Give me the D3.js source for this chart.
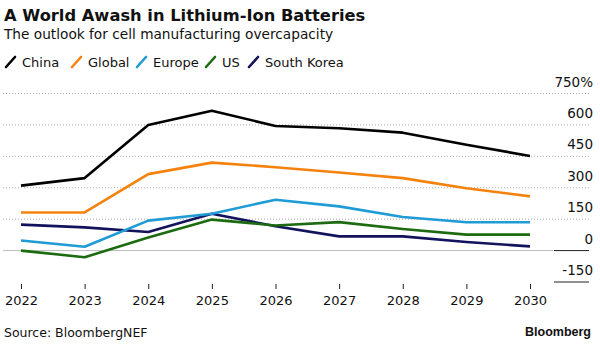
<!DOCTYPE html>
<html>
<head>
<meta charset="utf-8">
<script src="https://cdn.jsdelivr.net/npm/d3@7"></script>
<style>
  body { margin: 0; background: #fff; }
  text { font-family: "DejaVu Sans", sans-serif; fill: #111; }
</style>
</head>
<body>
<svg id="chart" width="600" height="344"></svg>
<script>
// data
const years = [2022, 2023, 2024, 2025, 2026, 2027, 2028, 2029, 2030];
const china = [310, 346, 600, 668, 595, 584, 563, 505, 452];
const global = [182, 182, 365, 420, 398, 373, 346, 298, 259];
const europe = [48, 18, 143, 176, 243, 211, 160, 135, 135];
const us = [0, -32, 63, 148, 120, 136, 103, 76, 76];
const southKorea = [124, 111, 89, 176, 116, 68, 68, 41, 20];
const yTicks = [-150, 0, 150, 300, 450, 600, 750];

const series = [
  { name: "China", values: china, color: "#000000" },
  { name: "Global", values: global, color: "#f5820d" },
  { name: "Europe", values: europe, color: "#1f9bd6" },
  { name: "US", values: us, color: "#1c6b10" },
  { name: "South Korea", values: southKorea, color: "#13125c" }
];

const svg = d3.select("#chart");

const x = d3.scalePoint()
  .domain(years)
  .range([21, 530]);

const y = d3.scaleLinear()
  .domain([-150, 750])
  .range([282, 93.5]);

// title block
svg.append("text")
  .attr("x", 4).attr("y", 21)
  .style("font-size", "16.3px").style("font-weight", "bold")
  .text("A World Awash in Lithium-Ion Batteries");

svg.append("text")
  .attr("x", 4).attr("y", 39)
  .style("font-size", "13.7px")
  .text("The outlook for cell manufacturing overcapacity");

// legend
const legendX = [5, 71, 136, 205, 248];
const legend = svg.append("g").attr("class", "legend");
series.forEach((s, i) => {
  const g = legend.append("g").attr("transform", "translate(" + legendX[i] + ",0)");
  g.append("line")
    .attr("x1", 1).attr("y1", 67)
    .attr("x2", 10).attr("y2", 57)
    .attr("stroke", s.color)
    .attr("stroke-width", 2.6)
    .attr("stroke-linecap", "round");
  g.append("text")
    .attr("x", 17).attr("y", 67)
    .style("font-size", "13px")
    .text(s.name);
});

// grid
const grid = svg.append("g").attr("class", "grid");
yTicks.forEach((t) => {
  if (t > 0) {
    grid.append("line")
      .attr("x1", 3).attr("x2", 590)
      .attr("y1", y(t)).attr("y2", y(t))
      .attr("stroke", "#aaa")
      .attr("stroke-width", 1)
      .attr("stroke-dasharray", "1,2");
  } else {
    if (t === 0) {
      grid.append("line")
        .attr("x1", 3).attr("x2", 553)
        .attr("y1", y(t)).attr("y2", y(t))
        .attr("stroke", "#bbb")
        .attr("stroke-width", 1);
    }
    grid.append("line")
      .attr("x1", 554).attr("x2", 589)
      .attr("y1", y(t)).attr("y2", y(t))
      .attr("stroke", "#222")
      .attr("stroke-width", 1);
  }
  grid.append("text")
    .attr("x", 593)
    .attr("y", y(t) - 7)
    .attr("text-anchor", "end")
    .style("font-size", "13.5px")
    .text(t === 750 ? "750%" : (t < 0 ? "-" + Math.abs(t) : t));
});

// x axis
const xAxis = svg.append("g")
  .attr("class", "axis-x")
  .attr("transform", "translate(0,284)")
  .call(d3.axisBottom(x).tickSize(5).tickPadding(7).tickFormat(d3.format("d")));
xAxis.select(".domain").remove();
xAxis.selectAll(".tick line").attr("stroke", "#222").attr("stroke-width", 1);
xAxis.selectAll(".tick text")
  .style("font-size", "13px")
  .style("font-family", "'DejaVu Sans', sans-serif")
  .attr("fill", "#111");

// lines
const line = d3.line()
  .x((d, i) => x(years[i]))
  .y((d) => y(d));

svg.append("g").attr("class", "lines")
  .selectAll("path")
  .data(series.slice().reverse())
  .enter().append("path")
  .attr("d", (s) => line(s.values))
  .attr("fill", "none")
  .attr("stroke", (s) => s.color)
  .attr("stroke-width", 2.6)
  .attr("stroke-linejoin", "round");

// footer
svg.append("text")
  .attr("x", 4).attr("y", 337)
  .style("font-size", "12.5px")
  .text("Source: BloombergNEF");

svg.append("text")
  .attr("x", 591).attr("y", 336)
  .attr("text-anchor", "end")
  .style("font-family", "'Liberation Sans', sans-serif")
  .style("font-size", "12.5px").style("font-weight", "bold")
  .text("Bloomberg");
</script>
</body>
</html>
